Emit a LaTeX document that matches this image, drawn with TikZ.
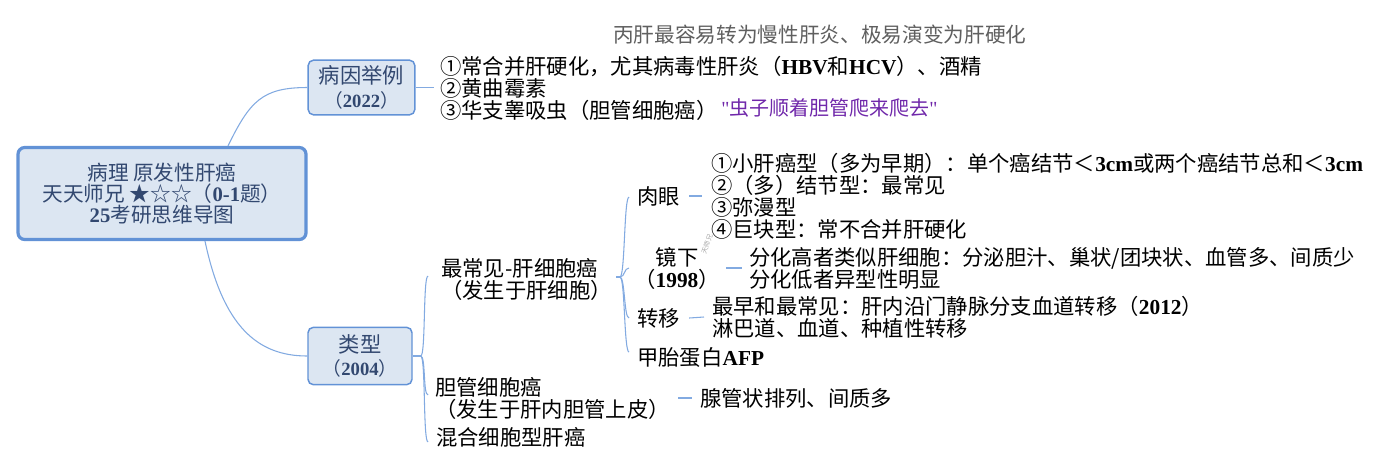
\documentclass[tikz,border=0pt]{standalone}
\usepackage{fontspec}
\setmainfont{Noto Sans CJK SC}
\newfontfamily\lat{Liberation Serif}
\newcommand\B[1]{{\lat\bfseries #1}}
\newcommand\sq{{\lat\char"22}}
\usetikzlibrary{calc}
\definecolor{boxfill}{RGB}{220,230,242}
\definecolor{boxline}{RGB}{98,146,214}
\definecolor{boxtext}{RGB}{50,72,112}
\definecolor{conncol}{RGB}{130,170,225}
\definecolor{notegray}{RGB}{95,95,95}
\definecolor{notepurple}{RGB}{112,40,170}
\tikzset{
  mainbox/.style={draw=boxline, line width=2.4pt, fill=boxfill, rounded corners=5pt,
    text=boxtext, align=center, font=\fontsize{15.5}{16}\selectfont,
    minimum width=216pt, minimum height=69pt, inner sep=0pt},
  subbox/.style={draw=boxline, line width=1.1pt, fill=boxfill, rounded corners=4pt,
    text=boxtext, align=center, font=\fontsize{16}{16.5}\selectfont, inner sep=0pt},
  txt/.style={anchor=west, align=left, inner sep=0pt, font=\fontsize{16}{16.5}\selectfont},
  conn/.style={draw=conncol, line width=0.8pt},
}
\begin{document}
\begin{tikzpicture}[x=0.75pt,y=-0.75pt]
\useasboundingbox (0,0) rectangle (1398,462);

% central topic
\node[mainbox] (c) at (162,193.5) {病理 原发性肝癌\\天天师兄 ★☆☆（\B{0-1}题）\\\B{25}考研思维导图};

% main branches
\node[subbox, minimum width=80pt, minimum height=41pt] (b1) at (361.5,87.5) {病因举例\\[1pt]{\fontsize{14}{15}\selectfont（\B{2022}）}};
\node[subbox, minimum width=78pt, minimum height=43pt] (b2) at (360,356) {类型\\[1pt]{\fontsize{14}{15}\selectfont（\B{2004}）}};

\draw[conn] ($(c.north)+(66,0)$) .. controls +(22,-45) and +(-45,0) .. (b1.west);
\draw[conn] ($(c.south)+(43,0)$) .. controls +(18,85) and +(-50,0) .. (b2.west);

% causes
\node[txt] (t1) at (440,88) {①常合并肝硬化，尤其病毒性肝炎（\B{HBV}和\B{HCV}）、酒精\\②黄曲霉素\\③华支睾吸虫（胆管细胞癌）};
\node[anchor=west, inner sep=0pt, text=notepurple, font=\fontsize{15}{15}\selectfont] (p) at (721,108) {\sq 虫子顺着胆管爬来爬去\sq};
\node[anchor=west, inner sep=0pt, text=notegray, font=\fontsize{15.5}{16}\selectfont] (top) at (613,35) {丙肝最容易转为慢性肝炎、极易演变为肝硬化};
\draw[conn] (b1.east) -- ($(b1.east)+(18,0)$);

% types
\node[txt] (h) at (441,279) {最常见-肝细胞癌\\（发生于肝细胞）};
\node[txt] (ch) at (435,398) {胆管细胞癌\\（发生于肝内胆管上皮）};
\node[txt] (mx) at (436,437) {混合细胞型肝癌};

\coordinate (k2) at ($(b2.east)+(8,0)$);
\draw[conn] (b2.east) -- (k2);
\draw[conn] (k2) .. controls +(5,0) and +(-5,0) .. (428,276);
\draw[conn] (k2) .. controls +(5,0) and +(-5,0) .. (428,395);
\draw[conn] (k2) .. controls +(5,0) and +(-5,0) .. (428,442);

% hepatocellular children
\node[txt] (ry) at (637,196) {肉眼};
\node[txt] (ryt) at (711,196) {①小肝癌型（多为早期）：单个癌结节＜\B{3cm}或两个癌结节总和＜\B{3cm}\\②（多）结节型：最常见\\③弥漫型\\④巨块型：常不合并肝硬化};
\node[align=center, inner sep=0pt, font=\fontsize{16}{16.5}\selectfont] (jx) at (677,268) {镜下\\（\B{1998}）};
\node[txt] (jxt) at (749,268) {分化高者类似肝细胞：分泌胆汁、巢状/团块状、血管多、间质少\\分化低者异型性明显};
\node[txt] (zy) at (637,318) {转移};
\node[txt] (zyt) at (712,317) {最早和最常见：肝内沿门静脉分支血道转移（\B{2012}）\\淋巴道、血道、种植性转移};
\node[txt] (afp) at (637,357) {甲胎蛋白\B{AFP}};
\node[txt] (xg) at (700,398) {腺管状排列、间质多};

\coordinate (k3) at (620,277);
\draw[conn] ($(h.east)+(4,-2)$) -- (k3);
\draw[conn] (k3) .. controls +(5,0) and +(-5,0) .. (629,197);
\draw[conn] (k3) .. controls +(5,0) and +(-5,0) .. (629,268);
\draw[conn] (k3) .. controls +(5,0) and +(-5,0) .. (629,318);
\draw[conn] (k3) .. controls +(5,0) and +(-5,0) .. (629,352);

% short leaders
\draw[conn] ($(ry.east)+(9,0)$) -- ($(ryt.west)+(-9,0)$);
\draw[conn] (726,268) -- (742,268);
\draw[conn] ($(zy.east)+(9,0)$) -- ($(zyt.west)+(-8,0)$);
\draw[conn] ($(xg.west)+(-22,0)$) -- ($(xg.west)+(-8,0)$);

% faint watermark
\node[text=black!35, font=\fontsize{5}{5}\selectfont, rotate=70, inner sep=0pt] (wm) at (707,244) {天师兄};
\end{tikzpicture}
\end{document}
